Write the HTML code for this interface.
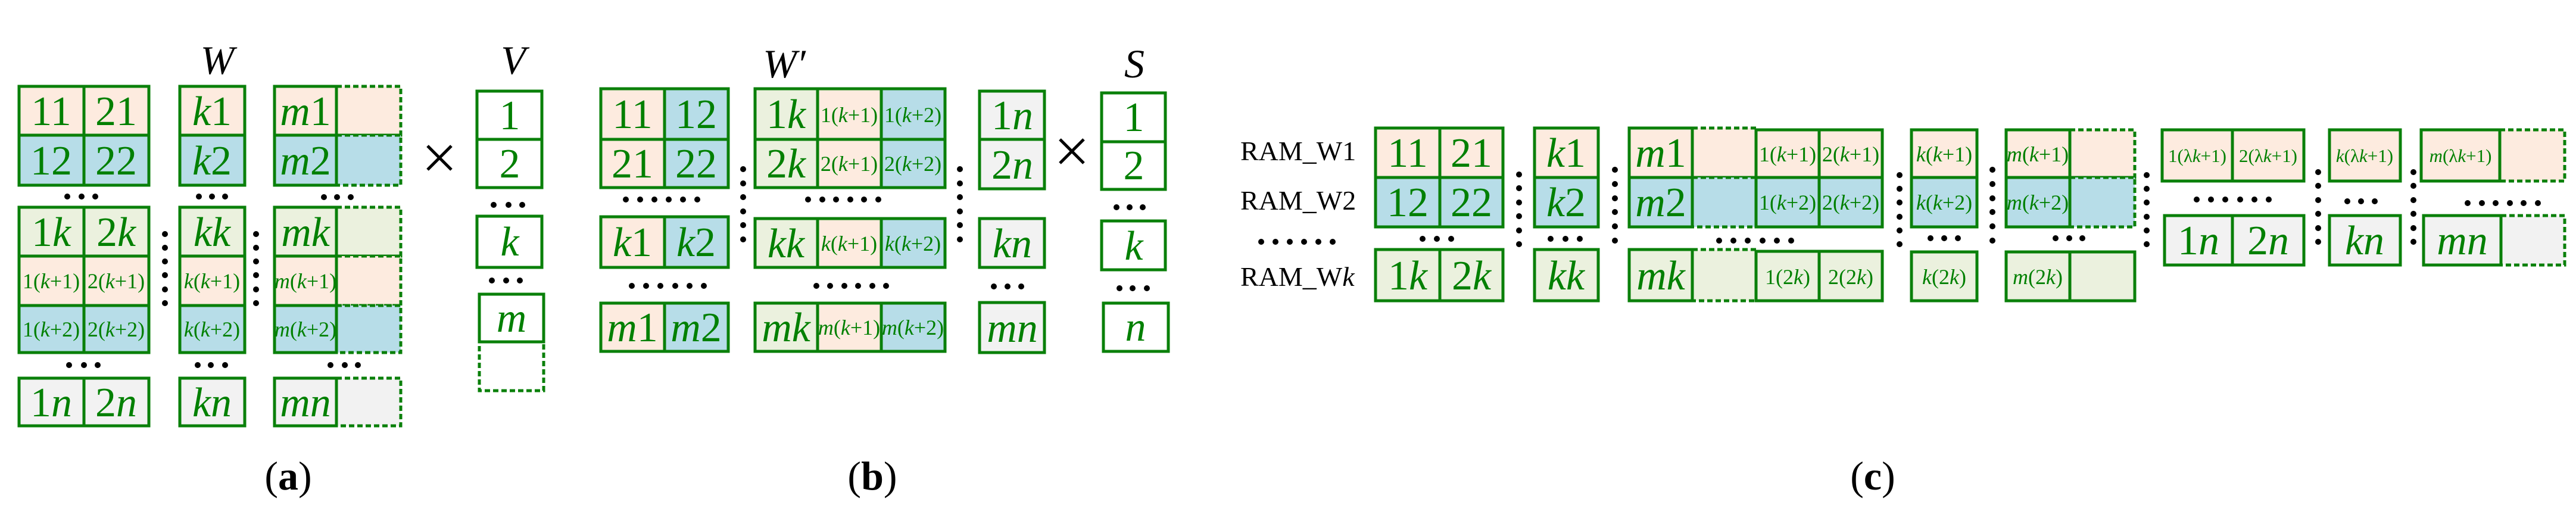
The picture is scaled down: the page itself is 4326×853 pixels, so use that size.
<!DOCTYPE html>
<html><head><meta charset="utf-8"><style>
html,body{margin:0;padding:0;background:#fff;}
svg{display:block;}
text{font-family:"Liberation Serif",serif;}
.g{fill:#008000;}
.b{font-size:70px;}
.s{font-size:36px;}
.t{font-size:31px;}
.i{font-style:italic;}
.lbl{fill:#000;font-size:46px;}
.ttl{fill:#000;font-size:68px;font-style:italic;}
.cap{fill:#000;font-size:68px;}
.c{stroke:#0a800a;stroke-width:5;}
.d{stroke:#0a800a;stroke-width:5;stroke-dasharray:9 5;}
.P{fill:#fdebdf}.B{fill:#b7dde8}.G{fill:#ebf1de}.Y{fill:#f2f2f2}.W{fill:#fff}
</style></head><body>
<svg width="4326" height="853" viewBox="0 0 4326 853" xmlns="http://www.w3.org/2000/svg">
<g text-anchor="middle">
<!-- ===== Panel (a) ===== -->
<text class="ttl" x="365" y="124">W</text>
<text class="ttl" x="862" y="124">V</text>
<rect class="d P" x="565" y="145" width="108" height="82"/>
<rect class="d B" x="565" y="227" width="108" height="84"/>
<rect class="d G" x="565" y="348" width="108" height="82"/>
<rect class="d P" x="565" y="430" width="108" height="83"/>
<rect class="d B" x="565" y="513" width="108" height="79"/>
<rect class="d Y" x="565" y="635" width="108" height="80"/>
<rect class="d W" x="805" y="574" width="108" height="82"/>
<rect class="c P" x="32" y="145" width="109" height="82"/><rect class="c P" x="141" y="145" width="109" height="82"/>
<rect class="c B" x="32" y="227" width="109" height="84"/><rect class="c B" x="141" y="227" width="109" height="84"/>
<rect class="c P" x="302" y="145" width="109" height="82"/><rect class="c B" x="302" y="227" width="109" height="84"/>
<rect class="c P" x="461" y="145" width="104" height="82"/><rect class="c B" x="461" y="227" width="104" height="84"/>
<text class="g b" x="86" y="210">11</text><text class="g b" x="195" y="210">21</text>
<text class="g b" x="86" y="293">12</text><text class="g b" x="195" y="293">22</text>
<text class="g b" x="356" y="210"><tspan class="i">k</tspan>1</text><text class="g b" x="356" y="293"><tspan class="i">k</tspan>2</text>
<text class="g b" x="513" y="210"><tspan class="i">m</tspan>1</text><text class="g b" x="513" y="293"><tspan class="i">m</tspan>2</text>
<rect class="c G" x="32" y="348" width="109" height="82"/><rect class="c G" x="141" y="348" width="109" height="82"/>
<rect class="c P" x="32" y="430" width="109" height="83"/><rect class="c P" x="141" y="430" width="109" height="83"/>
<rect class="c B" x="32" y="513" width="109" height="79"/><rect class="c B" x="141" y="513" width="109" height="79"/>
<rect class="c G" x="302" y="348" width="109" height="82"/><rect class="c P" x="302" y="430" width="109" height="83"/><rect class="c B" x="302" y="513" width="109" height="79"/>
<rect class="c G" x="461" y="348" width="104" height="82"/><rect class="c P" x="461" y="430" width="104" height="83"/><rect class="c B" x="461" y="513" width="104" height="79"/>
<text class="g b" x="86" y="413">1<tspan class="i">k</tspan></text><text class="g b" x="195" y="413">2<tspan class="i">k</tspan></text>
<text class="g b" x="356" y="413"><tspan class="i">kk</tspan></text><text class="g b" x="513" y="413"><tspan class="i">mk</tspan></text>
<text class="g s" x="86" y="484">1(<tspan class="i">k</tspan>+1)</text><text class="g s" x="195" y="484">2(<tspan class="i">k</tspan>+1)</text>
<text class="g s" x="356" y="484"><tspan class="i">k</tspan>(<tspan class="i">k</tspan>+1)</text><text class="g s" x="513" y="484"><tspan class="i">m</tspan>(<tspan class="i">k</tspan>+1)</text>
<text class="g s" x="86" y="565">1(<tspan class="i">k</tspan>+2)</text><text class="g s" x="195" y="565">2(<tspan class="i">k</tspan>+2)</text>
<text class="g s" x="356" y="565"><tspan class="i">k</tspan>(<tspan class="i">k</tspan>+2)</text><text class="g s" x="513" y="565"><tspan class="i">m</tspan>(<tspan class="i">k</tspan>+2)</text>
<rect class="c Y" x="32" y="635" width="109" height="80"/><rect class="c Y" x="141" y="635" width="109" height="80"/>
<rect class="c Y" x="302" y="635" width="109" height="80"/><rect class="c Y" x="461" y="635" width="104" height="80"/>
<text class="g b" x="86" y="699">1<tspan class="i">n</tspan></text><text class="g b" x="195" y="699">2<tspan class="i">n</tspan></text>
<text class="g b" x="356" y="699"><tspan class="i">kn</tspan></text><text class="g b" x="513" y="699"><tspan class="i">mn</tspan></text>
<path d="M718 245 L758 285 M758 245 L718 285" stroke="#000" stroke-width="5"/>
<rect class="c W" x="801" y="153" width="109" height="81"/><rect class="c W" x="801" y="234" width="109" height="81"/>
<rect class="c W" x="801" y="363" width="109" height="86"/><rect class="c W" x="805" y="494" width="108" height="80"/>
<text class="g b" x="856" y="217">1</text><text class="g b" x="856" y="298">2</text>
<text class="g b" x="856" y="429"><tspan class="i">k</tspan></text><text class="g b" x="859" y="557"><tspan class="i">m</tspan></text>
<text class="cap" x="484" y="822">(<tspan font-weight="bold">a</tspan>)</text>

<!-- ===== Panel (b) ===== -->
<text class="ttl" x="1317" y="130">W&#8242;</text>
<text class="ttl" x="1905" y="130">S</text>
<rect class="c P" x="1009" y="149" width="107" height="85"/><rect class="c B" x="1116" y="149" width="107" height="85"/>
<rect class="c P" x="1009" y="234" width="107" height="81"/><rect class="c B" x="1116" y="234" width="107" height="81"/>
<rect class="c P" x="1009" y="364" width="107" height="85"/><rect class="c B" x="1116" y="364" width="107" height="85"/>
<rect class="c P" x="1009" y="509" width="107" height="81"/><rect class="c B" x="1116" y="509" width="107" height="81"/>
<text class="g b" x="1062" y="215">11</text><text class="g b" x="1169" y="215">12</text>
<text class="g b" x="1062" y="298">21</text><text class="g b" x="1169" y="298">22</text>
<text class="g b" x="1062" y="430"><tspan class="i">k</tspan>1</text><text class="g b" x="1169" y="430"><tspan class="i">k</tspan>2</text>
<text class="g b" x="1062" y="573"><tspan class="i">m</tspan>1</text><text class="g b" x="1169" y="573"><tspan class="i">m</tspan>2</text>
<rect class="c G" x="1268" y="149" width="105" height="85"/><rect class="c P" x="1373" y="149" width="107" height="85"/><rect class="c B" x="1480" y="149" width="107" height="85"/>
<rect class="c G" x="1268" y="234" width="105" height="81"/><rect class="c P" x="1373" y="234" width="107" height="81"/><rect class="c B" x="1480" y="234" width="107" height="81"/>
<rect class="c G" x="1268" y="367" width="105" height="82"/><rect class="c P" x="1373" y="367" width="107" height="82"/><rect class="c B" x="1480" y="367" width="107" height="82"/>
<rect class="c G" x="1268" y="509" width="105" height="81"/><rect class="c P" x="1373" y="509" width="107" height="81"/><rect class="c B" x="1480" y="509" width="107" height="81"/>
<text class="g b" x="1320" y="215">1<tspan class="i">k</tspan></text><text class="g s" x="1426" y="205">1(<tspan class="i">k</tspan>+1)</text><text class="g s" x="1533" y="205">1(<tspan class="i">k</tspan>+2)</text>
<text class="g b" x="1320" y="298">2<tspan class="i">k</tspan></text><text class="g s" x="1426" y="287">2(<tspan class="i">k</tspan>+1)</text><text class="g s" x="1533" y="287">2(<tspan class="i">k</tspan>+2)</text>
<text class="g b" x="1320" y="432"><tspan class="i">kk</tspan></text><text class="g s" x="1426" y="421"><tspan class="i">k</tspan>(<tspan class="i">k</tspan>+1)</text><text class="g s" x="1533" y="421"><tspan class="i">k</tspan>(<tspan class="i">k</tspan>+2)</text>
<text class="g b" x="1320" y="573"><tspan class="i">mk</tspan></text><text class="g s" x="1426" y="562"><tspan class="i">m</tspan>(<tspan class="i">k</tspan>+1)</text><text class="g s" x="1533" y="562"><tspan class="i">m</tspan>(<tspan class="i">k</tspan>+2)</text>
<rect class="c Y" x="1645" y="153" width="109" height="81"/><rect class="c Y" x="1645" y="234" width="109" height="83"/>
<rect class="c Y" x="1645" y="367" width="109" height="82"/><rect class="c Y" x="1645" y="508" width="109" height="84"/>
<text class="g b" x="1700" y="217">1<tspan class="i">n</tspan></text><text class="g b" x="1700" y="300">2<tspan class="i">n</tspan></text>
<text class="g b" x="1700" y="432"><tspan class="i">kn</tspan></text><text class="g b" x="1700" y="574"><tspan class="i">mn</tspan></text>
<path d="M1780 234 L1820 274 M1820 234 L1780 274" stroke="#000" stroke-width="5"/>
<rect class="c W" x="1850" y="156" width="107" height="82"/><rect class="c W" x="1850" y="238" width="107" height="80"/>
<rect class="c W" x="1850" y="371" width="107" height="82"/><rect class="c W" x="1853" y="509" width="109" height="81"/>
<text class="g b" x="1904" y="220">1</text><text class="g b" x="1904" y="301">2</text>
<text class="g b" x="1904" y="436"><tspan class="i">k</tspan></text><text class="g b" x="1907" y="572"><tspan class="i">n</tspan></text>
<text class="cap" x="1465" y="822">(<tspan font-weight="bold">b</tspan>)</text>

<!-- ===== Panel (c) ===== -->
<g text-anchor="start">
<text class="lbl" x="2083" y="269">RAM_W1</text>
<text class="lbl" x="2083" y="352">RAM_W2</text>
<text class="lbl" x="2083" y="480">RAM_W<tspan class="i">k</tspan></text>
</g>
<rect class="c P" x="2310" y="215" width="108" height="83"/><rect class="c P" x="2418" y="215" width="106" height="83"/>
<rect class="c B" x="2310" y="298" width="108" height="83"/><rect class="c B" x="2418" y="298" width="106" height="83"/>
<rect class="c G" x="2310" y="419" width="108" height="86"/><rect class="c G" x="2418" y="419" width="106" height="86"/>
<text class="g b" x="2364" y="280">11</text><text class="g b" x="2471" y="280">21</text>
<text class="g b" x="2364" y="363">12</text><text class="g b" x="2471" y="363">22</text>
<text class="g b" x="2364" y="486">1<tspan class="i">k</tspan></text><text class="g b" x="2471" y="486">2<tspan class="i">k</tspan></text>
<rect class="c P" x="2577" y="215" width="107" height="83"/><rect class="c B" x="2577" y="298" width="107" height="83"/><rect class="c G" x="2577" y="419" width="107" height="86"/>
<text class="g b" x="2630" y="280"><tspan class="i">k</tspan>1</text><text class="g b" x="2630" y="363"><tspan class="i">k</tspan>2</text><text class="g b" x="2630" y="486"><tspan class="i">kk</tspan></text>
<rect class="d P" x="2842" y="215" width="107" height="83"/><rect class="d B" x="2842" y="298" width="107" height="83"/><rect class="d G" x="2842" y="419" width="107" height="86"/>
<rect class="c P" x="2736" y="215" width="106" height="83"/><rect class="c B" x="2736" y="298" width="106" height="83"/><rect class="c G" x="2736" y="419" width="106" height="86"/>
<rect class="c P" x="2949" y="218" width="106" height="80"/><rect class="c P" x="3055" y="218" width="106" height="80"/>
<rect class="c B" x="2949" y="298" width="106" height="83"/><rect class="c B" x="3055" y="298" width="106" height="83"/>
<rect class="c G" x="2949" y="422" width="106" height="83"/><rect class="c G" x="3055" y="422" width="106" height="83"/>
<text class="g b" x="2789" y="280"><tspan class="i">m</tspan>1</text><text class="g b" x="2789" y="363"><tspan class="i">m</tspan>2</text><text class="g b" x="2789" y="486"><tspan class="i">mk</tspan></text>
<text class="g s" x="3002" y="271">1(<tspan class="i">k</tspan>+1)</text><text class="g s" x="3108" y="271">2(<tspan class="i">k</tspan>+1)</text>
<text class="g s" x="3002" y="352">1(<tspan class="i">k</tspan>+2)</text><text class="g s" x="3108" y="352">2(<tspan class="i">k</tspan>+2)</text>
<text class="g s" x="3002" y="477">1(2<tspan class="i">k</tspan>)</text><text class="g s" x="3108" y="477">2(2<tspan class="i">k</tspan>)</text>
<rect class="c P" x="3210" y="218" width="110" height="80"/><rect class="c B" x="3210" y="298" width="110" height="83"/><rect class="c G" x="3210" y="423" width="110" height="82"/>
<text class="g s" x="3265" y="271"><tspan class="i">k</tspan>(<tspan class="i">k</tspan>+1)</text><text class="g s" x="3265" y="352"><tspan class="i">k</tspan>(<tspan class="i">k</tspan>+2)</text><text class="g s" x="3265" y="477"><tspan class="i">k</tspan>(2<tspan class="i">k</tspan>)</text>
<rect class="d P" x="3476" y="218" width="109" height="80"/><rect class="d B" x="3476" y="298" width="109" height="83"/>
<rect class="c P" x="3369" y="218" width="107" height="80"/><rect class="c B" x="3369" y="298" width="107" height="83"/>
<rect class="c G" x="3369" y="423" width="107" height="82"/><rect class="c G" x="3476" y="423" width="109" height="82"/>
<text class="g s" x="3422" y="271"><tspan class="i">m</tspan>(<tspan class="i">k</tspan>+1)</text><text class="g s" x="3422" y="352"><tspan class="i">m</tspan>(<tspan class="i">k</tspan>+2)</text><text class="g s" x="3422" y="477"><tspan class="i">m</tspan>(2<tspan class="i">k</tspan>)</text>
<rect class="c P" x="3631" y="218" width="118" height="86"/><rect class="c P" x="3749" y="218" width="120" height="86"/>
<rect class="c Y" x="3635" y="362" width="114" height="83"/><rect class="c Y" x="3749" y="362" width="120" height="83"/>
<text class="g t" x="3690" y="272">1(λ<tspan class="i">k</tspan>+1)</text><text class="g t" x="3809" y="272">2(λ<tspan class="i">k</tspan>+1)</text>
<text class="g b" x="3692" y="427">1<tspan class="i">n</tspan></text><text class="g b" x="3809" y="427">2<tspan class="i">n</tspan></text>
<rect class="c P" x="3912" y="218" width="119" height="86"/><rect class="c Y" x="3912" y="362" width="119" height="83"/>
<text class="g t" x="3971" y="272"><tspan class="i">k</tspan>(λ<tspan class="i">k</tspan>+1)</text><text class="g b" x="3971" y="427"><tspan class="i">kn</tspan></text>
<rect class="d P" x="4198" y="218" width="109" height="86"/><rect class="d Y" x="4200" y="362" width="107" height="83"/>
<rect class="c P" x="4066" y="218" width="132" height="86"/><rect class="c Y" x="4070" y="362" width="130" height="83"/>
<text class="g t" x="4132" y="272"><tspan class="i">m</tspan>(λ<tspan class="i">k</tspan>+1)</text><text class="g b" x="4135" y="427"><tspan class="i">mn</tspan></text>
<text class="cap" x="3145" y="822">(<tspan font-weight="bold">c</tspan>)</text>
</g>

<g fill="#000">
<circle cx="113" cy="330" r="5"/><circle cx="137" cy="330" r="5"/><circle cx="160" cy="330" r="5"/>
<circle cx="334" cy="330" r="5"/><circle cx="356" cy="330" r="5"/><circle cx="378" cy="330" r="5"/>
<circle cx="544" cy="331" r="5"/><circle cx="566" cy="331" r="5"/><circle cx="589" cy="331" r="5"/>
<circle cx="116" cy="613" r="5"/><circle cx="141" cy="613" r="5"/><circle cx="164" cy="613" r="5"/>
<circle cx="332" cy="613" r="5"/><circle cx="354" cy="613" r="5"/><circle cx="378" cy="613" r="5"/>
<circle cx="555" cy="613" r="5"/><circle cx="579" cy="613" r="5"/><circle cx="601" cy="613" r="5"/>
<circle cx="829" cy="344" r="5"/><circle cx="854" cy="344" r="5"/><circle cx="877" cy="344" r="5"/>
<circle cx="826" cy="471" r="5"/><circle cx="850" cy="471" r="5"/><circle cx="873" cy="471" r="5"/>
<circle cx="277" cy="393" r="5"/><circle cx="277" cy="416" r="5"/><circle cx="277" cy="439" r="5"/><circle cx="277" cy="462" r="5"/><circle cx="277" cy="486" r="5"/><circle cx="277" cy="509" r="5"/>
<circle cx="430" cy="393" r="5"/><circle cx="430" cy="416" r="5"/><circle cx="430" cy="439" r="5"/><circle cx="430" cy="462" r="5"/><circle cx="430" cy="486" r="5"/><circle cx="430" cy="509" r="5"/>
<circle cx="1051" cy="335" r="5"/><circle cx="1075" cy="335" r="5"/><circle cx="1099" cy="335" r="5"/><circle cx="1123" cy="335" r="5"/><circle cx="1147" cy="335" r="5"/><circle cx="1171" cy="335" r="5"/>
<circle cx="1061" cy="480" r="5"/><circle cx="1085" cy="480" r="5"/><circle cx="1109" cy="480" r="5"/><circle cx="1134" cy="480" r="5"/><circle cx="1158" cy="480" r="5"/><circle cx="1182" cy="480" r="5"/>
<circle cx="1357" cy="335" r="5"/><circle cx="1381" cy="335" r="5"/><circle cx="1404" cy="335" r="5"/><circle cx="1428" cy="335" r="5"/><circle cx="1451" cy="335" r="5"/><circle cx="1475" cy="335" r="5"/>
<circle cx="1371" cy="480" r="5"/><circle cx="1394" cy="480" r="5"/><circle cx="1418" cy="480" r="5"/><circle cx="1441" cy="480" r="5"/><circle cx="1465" cy="480" r="5"/><circle cx="1488" cy="480" r="5"/>
<circle cx="1669" cy="481" r="5"/><circle cx="1692" cy="481" r="5"/><circle cx="1715" cy="481" r="5"/>
<circle cx="1875" cy="348" r="5"/><circle cx="1897" cy="348" r="5"/><circle cx="1919" cy="348" r="5"/>
<circle cx="1880" cy="484" r="5"/><circle cx="1902" cy="484" r="5"/><circle cx="1926" cy="484" r="5"/>
<circle cx="1248" cy="284" r="5"/><circle cx="1248" cy="308" r="5"/><circle cx="1248" cy="331" r="5"/><circle cx="1248" cy="355" r="5"/><circle cx="1248" cy="378" r="5"/><circle cx="1248" cy="402" r="5"/>
<circle cx="1612" cy="284" r="5"/><circle cx="1612" cy="308" r="5"/><circle cx="1612" cy="331" r="5"/><circle cx="1612" cy="355" r="5"/><circle cx="1612" cy="378" r="5"/><circle cx="1612" cy="402" r="5"/>
<circle cx="2118" cy="406" r="5"/><circle cx="2142" cy="406" r="5"/><circle cx="2166" cy="406" r="5"/><circle cx="2190" cy="406" r="5"/><circle cx="2214" cy="406" r="5"/><circle cx="2238" cy="406" r="5"/>
<circle cx="2389" cy="401" r="5"/><circle cx="2413" cy="401" r="5"/><circle cx="2437" cy="401" r="5"/>
<circle cx="2604" cy="401" r="5"/><circle cx="2629" cy="401" r="5"/><circle cx="2653" cy="401" r="5"/>
<circle cx="2887" cy="404" r="5"/><circle cx="2911" cy="404" r="5"/><circle cx="2935" cy="404" r="5"/><circle cx="2960" cy="404" r="5"/><circle cx="2984" cy="404" r="5"/><circle cx="3008" cy="404" r="5"/>
<circle cx="3242" cy="400" r="5"/><circle cx="3265" cy="400" r="5"/><circle cx="3288" cy="400" r="5"/>
<circle cx="3452" cy="400" r="5"/><circle cx="3475" cy="400" r="5"/><circle cx="3497" cy="400" r="5"/>
<circle cx="3689" cy="335" r="5"/><circle cx="3713" cy="335" r="5"/><circle cx="3737" cy="335" r="5"/><circle cx="3762" cy="335" r="5"/><circle cx="3786" cy="335" r="5"/><circle cx="3810" cy="335" r="5"/>
<circle cx="3942" cy="338" r="5"/><circle cx="3965" cy="338" r="5"/><circle cx="3988" cy="338" r="5"/>
<circle cx="4144" cy="341" r="5"/><circle cx="4168" cy="341" r="5"/><circle cx="4191" cy="341" r="5"/><circle cx="4215" cy="341" r="5"/><circle cx="4238" cy="341" r="5"/><circle cx="4262" cy="341" r="5"/>
<circle cx="2551" cy="293" r="5"/><circle cx="2551" cy="316" r="5"/><circle cx="2551" cy="340" r="5"/><circle cx="2551" cy="363" r="5"/><circle cx="2551" cy="387" r="5"/><circle cx="2551" cy="410" r="5"/>
<circle cx="2712" cy="285" r="5"/><circle cx="2712" cy="309" r="5"/><circle cx="2712" cy="333" r="5"/><circle cx="2712" cy="356" r="5"/><circle cx="2712" cy="380" r="5"/><circle cx="2712" cy="404" r="5"/>
<circle cx="3190" cy="294" r="5"/><circle cx="3190" cy="317" r="5"/><circle cx="3190" cy="340" r="5"/><circle cx="3190" cy="364" r="5"/><circle cx="3190" cy="387" r="5"/><circle cx="3190" cy="410" r="5"/>
<circle cx="3346" cy="285" r="5"/><circle cx="3346" cy="309" r="5"/><circle cx="3346" cy="333" r="5"/><circle cx="3346" cy="356" r="5"/><circle cx="3346" cy="380" r="5"/><circle cx="3346" cy="404" r="5"/>
<circle cx="3605" cy="294" r="5"/><circle cx="3605" cy="317" r="5"/><circle cx="3605" cy="340" r="5"/><circle cx="3605" cy="364" r="5"/><circle cx="3605" cy="387" r="5"/><circle cx="3605" cy="410" r="5"/>
<circle cx="3893" cy="289" r="5"/><circle cx="3893" cy="312" r="5"/><circle cx="3893" cy="336" r="5"/><circle cx="3893" cy="359" r="5"/><circle cx="3893" cy="383" r="5"/><circle cx="3893" cy="406" r="5"/>
<circle cx="4053" cy="289" r="5"/><circle cx="4053" cy="312" r="5"/><circle cx="4053" cy="336" r="5"/><circle cx="4053" cy="359" r="5"/><circle cx="4053" cy="383" r="5"/><circle cx="4053" cy="406" r="5"/>
</g>
</svg>
</body></html>
